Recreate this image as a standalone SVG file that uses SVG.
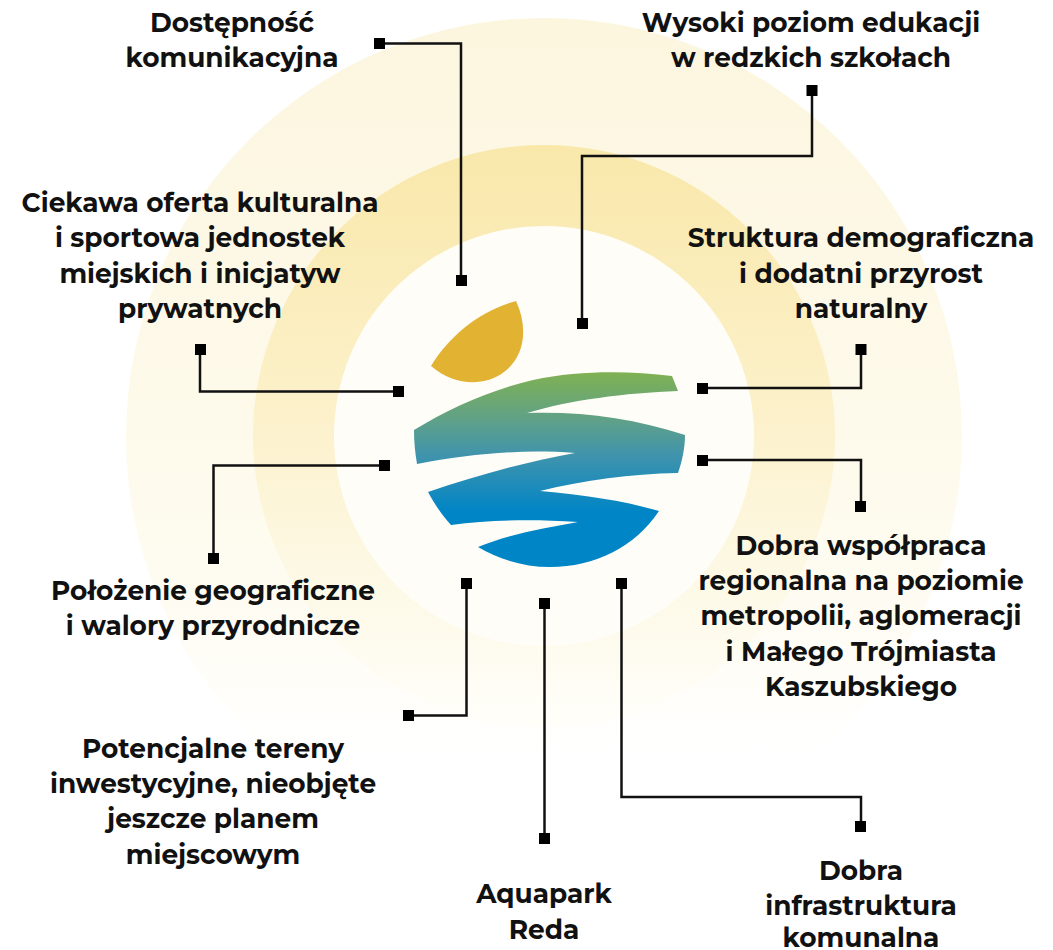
<svg xmlns="http://www.w3.org/2000/svg" width="1053" height="950" viewBox="0 0 1053 950">
<style>
text{font-family:"Montserrat","Inter","Liberation Sans",sans-serif;font-weight:700;font-size:26.4px;fill:#111;text-anchor:middle}
.c{fill:none;stroke:#111;stroke-width:2.5}
.d{fill:#000}
</style>
<defs>
<linearGradient id="o" x1="0" y1="0" x2="0" y2="1"><stop offset="0" stop-color="#fcf6df"/><stop offset=".5" stop-color="#fefaeb"/><stop offset=".72" stop-color="#fefcf3"/><stop offset=".88" stop-color="#fff"/></linearGradient>
<linearGradient id="m" x1="0" y1="0" x2="0" y2="1"><stop offset="0" stop-color="#f9e8aa"/><stop offset=".47" stop-color="#fcf1cb"/><stop offset=".75" stop-color="#fdf9e6"/><stop offset=".98" stop-color="#fffef9"/></linearGradient>
<linearGradient id="w" gradientUnits="userSpaceOnUse" x1="0" y1="373" x2="0" y2="512"><stop offset="0" stop-color="#7fb153"/><stop offset=".35" stop-color="#5ea08a"/><stop offset=".6" stop-color="#3f93ad"/><stop offset="1" stop-color="#0085c6"/></linearGradient>
</defs>
<rect width="1053" height="950" fill="#fff"/>
<g id="rings">
<circle cx="544" cy="436" r="418" fill="url(#o)"/>
<circle cx="544" cy="436" r="291" fill="url(#m)"/>
<circle cx="544" cy="436" r="210" fill="#fffdf7"/>
</g>
<g id="logo">
<path d="M516 301C529 329 524 357 504 372C484 387 454 386 431 366C449 336 480 311 516 301Z" fill="#e2b233"/>
<path d="M414 430C450 408 490 390 533 380C580 370 630 371 672 376L678 391C625 393 570 400 527 413C580 411 633 418 685 435C685 448 682 462 678 473C630 474 585 480 540 491C585 495 625 501 659 511C635 547 595 567 550 567C525 567 500 560 478 547C510 534 545 528 578 522C530 519 490 520 451 525C441 514 434 503 428 492C475 476 525 462 575 453C520 449 470 454 417 464C415 452 414 442 414 430Z" fill="url(#w)"/>
</g>
<g id="connectors">
<path class="c" d="M380 43.500H461V280"/>
<path class="c" d="M812 90V156H582V323"/>
<path class="c" d="M861 350V388H703"/>
<path class="c" d="M703 460H861V506"/>
<path class="c" d="M200 349V391.500H398"/>
<path class="c" d="M385 465.500H213.500V558"/>
<path class="c" d="M466.500 583V715.500H408"/>
<path class="c" d="M544.500 603V838"/>
<path class="c" d="M621.500 583V797H861V826"/>
<g class="d">
<rect x="374" y="38" width="11" height="11"/><rect x="456" y="275" width="11" height="11"/>
<rect x="806.500" y="85" width="11" height="11"/><rect x="577" y="318" width="11" height="11"/>
<rect x="855.500" y="344" width="11" height="11"/><rect x="697" y="383" width="11" height="11"/>
<rect x="697" y="455" width="11" height="11"/><rect x="855" y="501" width="11" height="11"/>
<rect x="195" y="344" width="11" height="11"/><rect x="393" y="386" width="11" height="11"/>
<rect x="379" y="460" width="11" height="11"/><rect x="208" y="553" width="11" height="11"/>
<rect x="461" y="578" width="11" height="11"/><rect x="403" y="710" width="11" height="11"/>
<rect x="539" y="598" width="11" height="11"/><rect x="539" y="833" width="11" height="11"/>
<rect x="616" y="578" width="11" height="11"/><rect x="855" y="821" width="11" height="11"/>
</g>
</g>
<g id="n1"><text x="232" y="32">Dostępność</text><text x="232" y="67">komunikacyjna</text></g>
<g id="n2"><text x="811" y="32">Wysoki poziom edukacji</text><text x="811" y="67">w redzkich szkołach</text></g>
<g id="n3"><text x="200" y="212">Ciekawa oferta kulturalna</text><text x="200" y="247">i sportowa jednostek</text><text x="200" y="283">miejskich i inicjatyw</text><text x="200" y="318">prywatnych</text></g>
<g id="n4"><text x="861" y="247">Struktura demograficzna</text><text x="861" y="283">i dodatni przyrost</text><text x="861" y="318">naturalny</text></g>
<g id="n5"><text x="213" y="600">Położenie geograficzne</text><text x="213" y="635">i walory przyrodnicze</text></g>
<g id="n6"><text x="861" y="555">Dobra współpraca</text><text x="861" y="590">regionalna na poziomie</text><text x="861" y="625">metropolii, aglomeracji</text><text x="861" y="661">i Małego Trójmiasta</text><text x="861" y="696">Kaszubskiego</text></g>
<g id="n7"><text x="213" y="758">Potencjalne tereny</text><text x="213" y="793">inwestycyjne, nieobjęte</text><text x="213" y="828">jeszcze planem</text><text x="213" y="864">miejscowym</text></g>
<g id="n8"><text x="544" y="903">Aquapark</text><text x="544" y="939">Reda</text></g>
<g id="n9"><text x="861" y="880">Dobra</text><text x="861" y="915">infrastruktura</text><text x="861" y="947">komunalna</text></g>
</svg>
